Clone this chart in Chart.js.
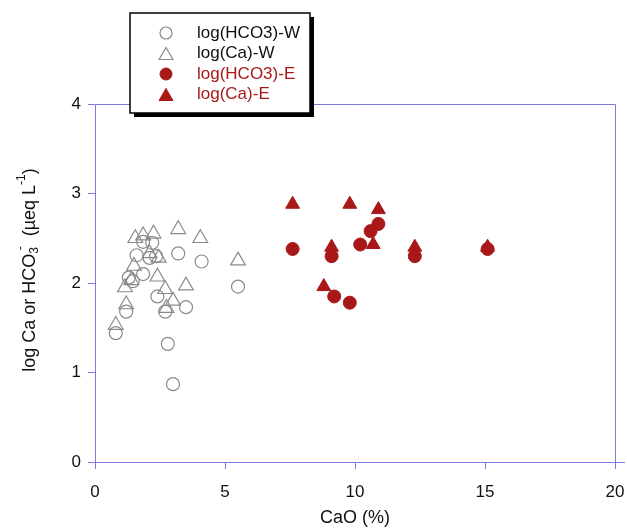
<!DOCTYPE html>
<html>
<head>
<meta charset="utf-8">
<script src="https://cdn.jsdelivr.net/npm/chart.js@4.4.1/dist/chart.umd.min.js"></script>
<style>
  html, body { margin: 0; padding: 0; background: #ffffff; }
  #wrap { width: 627px; height: 529px; position: relative; }
</style>
</head>
<body>
<div id="wrap"><canvas id="c" width="627" height="529"></canvas></div>
<script>
// ---- data ----
const seriesLabels = ['log(HCO3)-W', 'log(Ca)-W', 'log(HCO3)-E', 'log(Ca)-E'];

const hco3W_x = [0.8, 1.2, 1.3, 1.45, 1.6, 1.85, 1.85, 2.1, 2.2, 2.35, 2.4, 2.7, 2.8, 3.0, 3.2, 3.5, 4.1, 5.5];
const hco3W_y = [1.44, 1.68, 2.06, 2.02, 2.31, 2.46, 2.10, 2.28, 2.45, 2.30, 1.85, 1.68, 1.32, 0.87, 2.33, 1.73, 2.24, 1.96];

const caW_x = [0.8, 1.15, 1.2, 1.4, 1.5, 1.55, 1.85, 2.1, 2.25, 2.4, 2.45, 2.7, 2.75, 3.0, 3.2, 3.5, 4.05, 5.5];
const caW_y = [1.53, 1.95, 1.76, 2.03, 2.19, 2.50, 2.53, 2.33, 2.55, 2.07, 2.28, 1.93, 1.72, 1.80, 2.60, 1.97, 2.50, 2.25];

const hco3E_x = [7.6, 9.1, 9.2, 9.8, 10.2, 10.6, 10.9, 12.3, 15.1];
const hco3E_y = [2.38, 2.30, 1.85, 1.78, 2.43, 2.58, 2.66, 2.30, 2.38];

const caE_x = [7.6, 8.8, 9.1, 9.8, 10.7, 10.9, 12.3, 15.1];
const caE_y = [2.88, 1.96, 2.40, 2.88, 2.43, 2.82, 2.40, 2.40];

const xTicks = [0, 5, 10, 15, 20];
const yTicks = [0, 1, 2, 3, 4];
const xTitle = 'CaO (%)';

// ---- styles ----
const AXIS = '#7a7ae0';
const RED = '#a81818';
const GRAY = '#8a8a8a';
const FONT = '"Liberation Sans", Arial, sans-serif';

const pts = (xs, ys) => xs.map((x, i) => ({ x: x, y: ys[i] }));

const datasets = [
  { label: seriesLabels[0], data: pts(hco3W_x, hco3W_y), pointStyle: 'circle', pointRadius: 6.5,
    backgroundColor: 'rgba(0,0,0,0)', borderColor: GRAY, pointBorderWidth: 1.2 },
  { label: seriesLabels[1], data: pts(caW_x, caW_y), pointStyle: 'triangle', pointRadius: 8.5,
    backgroundColor: 'rgba(0,0,0,0)', borderColor: GRAY, pointBorderWidth: 1.2 },
  { label: seriesLabels[3], data: pts(caE_x, caE_y), pointStyle: 'triangle', pointRadius: 8,
    backgroundColor: RED, borderColor: RED, pointBorderWidth: 1 },
  { label: seriesLabels[2], data: pts(hco3E_x, hco3E_y), pointStyle: 'circle', pointRadius: 6.5,
    backgroundColor: RED, borderColor: RED, pointBorderWidth: 1 }
];

// frame + extended x axis line
const framePlugin = {
  id: 'frame',
  beforeDatasetsDraw(chart) {
    const { ctx, chartArea: a } = chart;
    ctx.save();
    ctx.strokeStyle = AXIS;
    ctx.lineWidth = 1;
    ctx.beginPath();
    ctx.moveTo(a.left + 0.5, a.bottom + 7);
    ctx.lineTo(a.left + 0.5, a.top + 0.5);
    ctx.lineTo(a.right + 0.5, a.top + 0.5);
    ctx.lineTo(a.right + 0.5, a.bottom);
    ctx.moveTo(a.left - 7, a.bottom + 0.5);
    ctx.lineTo(a.right + 10, a.bottom + 0.5);
    ctx.stroke();
    ctx.restore();
  }
};

// y title with sub/superscripts, x title
const titlePlugin = {
  id: 'titles',
  afterDraw(chart) {
    const ctx = chart.ctx;
    const big = '18px ' + FONT, small = '12px ' + FONT;
    const parts = [
      { t: 'log Ca or HCO', f: big, dy: 0 },
      { t: '3', f: small, dy: 5, stack: true },
      { t: ' -', f: small, dy: -9 },
      { t: '  (\u00b5eq L', f: big, dy: 0 },
      { t: '-1', f: small, dy: -8 },
      { t: ')', f: big, dy: 0 }
    ];
    ctx.save();
    let total = 0;
    const widths = parts.map(p => { ctx.font = p.f; return ctx.measureText(p.t).width; });
    parts.forEach((p, i) => { if (!p.stack) total += widths[i]; });
    const cx = 30, cy = 270;
    ctx.translate(cx, cy);
    ctx.rotate(-Math.PI / 2);
    ctx.fillStyle = '#111';
    ctx.textBaseline = 'middle';
    ctx.textAlign = 'left';
    let x = -total / 2;
    parts.forEach((p, i) => {
      ctx.font = p.f;
      ctx.fillText(p.t, x, p.dy);
      if (!p.stack) x += widths[i];
    });
    ctx.restore();

    ctx.save();
    ctx.font = '18px ' + FONT;
    ctx.fillStyle = '#111';
    ctx.textAlign = 'center';
    ctx.textBaseline = 'middle';
    const a = chart.chartArea;
    ctx.fillText(xTitle, (a.left + a.right) / 2, 518);
    ctx.restore();
  }
};

// custom legend box with shadow
const legendPlugin = {
  id: 'customLegend',
  afterDraw(chart) {
    const ctx = chart.ctx;
    const bx = 130, by = 13, bw = 180, bh = 100;
    ctx.save();
    ctx.fillStyle = '#000';
    ctx.fillRect(bx + 4, by + 4, bw, bh);
    ctx.fillStyle = '#fff';
    ctx.fillRect(bx, by, bw, bh);
    ctx.strokeStyle = '#000';
    ctx.lineWidth = 1.5;
    ctx.strokeRect(bx, by, bw, bh);
    const rows = [
      { ds: 0, color: '#111' },
      { ds: 1, color: '#111' },
      { ds: 3, color: RED },
      { ds: 2, color: RED }
    ];
    ctx.font = '17px ' + FONT;
    ctx.textBaseline = 'middle';
    ctx.textAlign = 'left';
    rows.forEach((r, i) => {
      const d = chart.data.datasets[r.ds];
      const y = by + 20 + i * 20.5;
      ctx.fillStyle = d.backgroundColor;
      ctx.strokeStyle = d.borderColor;
      ctx.lineWidth = d.pointBorderWidth;
      Chart.helpers.drawPoint(ctx, { pointStyle: d.pointStyle, radius: d.pointStyle === 'circle' ? 6 : 8, rotation: 0, borderWidth: d.pointBorderWidth }, 166, y + (d.pointStyle === 'triangle' ? 2 : 0));
      ctx.fillStyle = r.color;
      ctx.fillText(d.label, 197, y);
    });
    ctx.restore();
  }
};

new Chart(document.getElementById('c'), {
  type: 'scatter',
  data: { datasets: datasets },
  options: {
    responsive: false,
    animation: false,
    events: [],
    layout: { padding: { left: 0, top: 104, right: 12, bottom: 0 } },
    plugins: { legend: { display: false }, tooltip: { enabled: false } },
    scales: {
      x: {
        type: 'linear', min: 0, max: 20,
        afterBuildTicks: s => { s.ticks = xTicks.map(v => ({ value: v })); },
        afterFit: s => { s.height = 67; s.paddingLeft = 0; s.paddingRight = 0; },
        border: { display: false },
        grid: { drawOnChartArea: false, drawTicks: true, tickLength: 7, color: AXIS, lineWidth: 1 },
        ticks: { color: '#111', font: { family: FONT, size: 17 }, padding: 13, maxRotation: 0 }
      },
      y: {
        type: 'linear', min: 0, max: 4,
        afterBuildTicks: s => { s.ticks = yTicks.map(v => ({ value: v })); },
        afterFit: s => { s.width = 95; s.paddingTop = 0; s.paddingBottom = 0; },
        border: { display: false },
        grid: { drawOnChartArea: false, drawTicks: true, tickLength: 7, color: AXIS, lineWidth: 1 },
        ticks: { color: '#111', font: { family: FONT, size: 17 }, padding: 7 }
      }
    }
  },
  plugins: [framePlugin, titlePlugin, legendPlugin]
});
</script>
</body>
</html>
